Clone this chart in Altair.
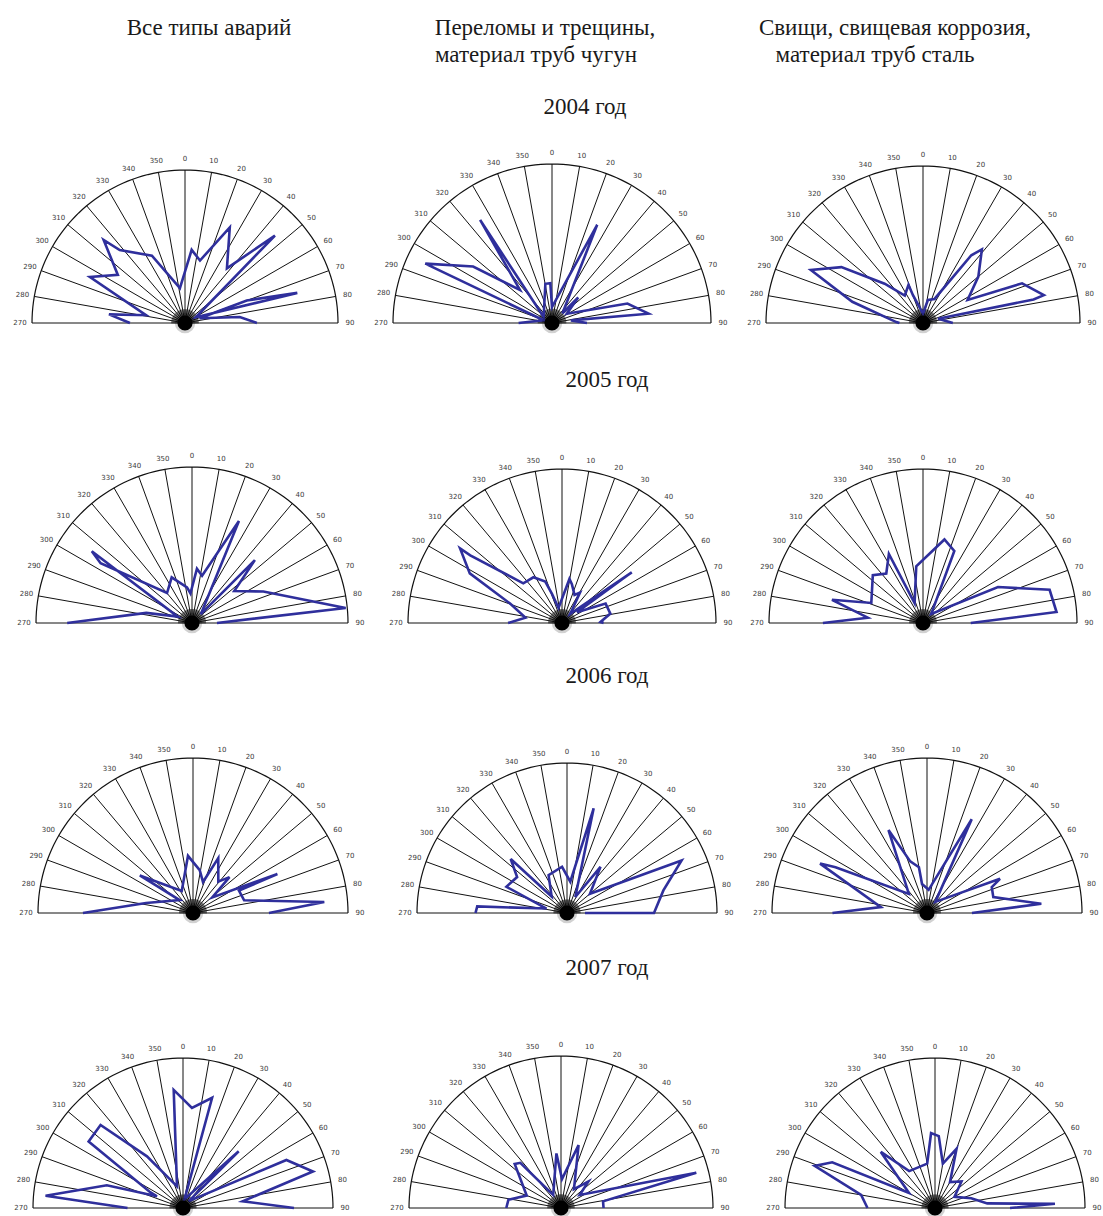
import altair as alt
import pandas as pd
import numpy as np

W, H = 1103, 1216

# Column headers and year captions
col_titles = [["Все типы аварий"],
              ["Переломы и трещины,", "материал труб чугун"],
              ["Свищи, свищевая коррозия,", "материал труб сталь"]]
years = ["2004 год", "2005 год", "2006 год", "2007 год"]

# Rose outlines: bearing in degrees (-90 = 270, 0 = north, 90 = east), radius as share of the full circle
a_2004_all = [-90, -83.5, -78.7, -64.2, -54.4, -44.4, -41.8, -26.2, -8.3, 5.2, 13.5, 25.1, 37.5, 45.8, 62, 75, 70, 72, 83.8, 90]
r_2004_all = [0.36, 0.50, 0.26, 0.69, 0.54, 0.76, 0.64, 0.49, 0.23, 0.48, 0.42, 0.69, 0.45, 0.82, 0.08, 0.76, 0.43, 0.10, 0.36, 0.47]

a_2004_iron = [-90, -72, -64.9, -54.4, -44.1, -34.9, -54, -9.6, -2.4, 0, 24.7, 47, 45.7, 58, 75.5, 84.5, 82, 90]
r_2004_iron = [0.21, 0.055, 0.88, 0.61, 0.29, 0.79, 0.065, 0.25, 0.25, 0.10, 0.68, 0.09, 0.23, 0.11, 0.49, 0.61, 0.12, 0.22]

a_2004_steel = [-90, -88, -73.3, -64.7, -55.6, -44.3, -33.5, -20.8, -19.9, 0, 12, 25.6, 35.5, 38.7, 50, 62.6, 68.2, 77, 78, 74, 90]
r_2004_steel = [0.15, 0.17, 0.47, 0.79, 0.63, 0.35, 0.21, 0.26, 0.19, 0.06, 0.15, 0.17, 0.53, 0.60, 0.46, 0.32, 0.68, 0.79, 0.72, 0.10, 0.19]

a_2005_all = [-90, -77.5, -66, -54.4, -56.8, -39.8, -24, -8, -3, 5.2, 12, 24.7, 45, 45, 52.8, 66.2, 84.4, 90]
r_2005_all = [0.80, 0.30, 0.10, 0.79, 0.70, 0.25, 0.32, 0.23, 0.19, 0.35, 0.31, 0.72, 0.08, 0.57, 0.34, 0.50, 0.99, 0.16]

a_2005_iron = [-90, -81.7, -69.5, -61.7, -53.8, -53.6, -44.3, -32, -22, -19, -13, 9.6, 14.3, 24, 30.6, 42, 54, 54, 66, 79, 88.5, 90]
r_2005_iron = [0.35, 0.24, 0.36, 0.68, 0.82, 0.74, 0.36, 0.35, 0.29, 0.20, 0.10, 0.29, 0.26, 0.20, 0.23, 0.08, 0.56, 0.12, 0.31, 0.32, 0.25, 0.27]

a_2005_steel = [-90, -84.5, -75.7, -68.8, -46.4, -36.6, -26.3, -23, -6.8, 14.4, 23.5, 42, 64.4, 75.3, 85.3, 90]
r_2005_steel = [0.65, 0.36, 0.61, 0.36, 0.45, 0.40, 0.50, 0.14, 0.37, 0.56, 0.51, 0.08, 0.54, 0.85, 0.87, 0.31]

a_2006_all = [-90, -77.9, -46, -54.8, -27, -5, 8.9, 17.9, 24.7, 38.9, 45.5, 51, 65.2, 64, 76, 85.2, 90]
r_2006_all = [0.71, 0.31, 0.12, 0.42, 0.16, 0.37, 0.28, 0.21, 0.39, 0.26, 0.33, 0.16, 0.60, 0.33, 0.34, 0.85, 0.49]

a_2006_iron = [-90, -85.8, -77.8, -66.6, -54.2, -46.2, -43, -26, -6.1, 6, 14.3, 27.5, 36, 50, 65.4, 76.8, 90, 90]
r_2006_iron = [0.61, 0.60, 0.14, 0.44, 0.41, 0.52, 0.15, 0.28, 0.31, 0.21, 0.72, 0.12, 0.38, 0.20, 0.84, 0.66, 0.58, 0.12]

a_2006_steel = [-90, -82.7, -65.2, -63.4, -43.5, -24.9, -18, -10, -9.7, 4, 25.5, 37, 64.9, 68.2, 76.5, 85.4, 90]
r_2006_steel = [0.61, 0.30, 0.76, 0.66, 0.17, 0.59, 0.35, 0.30, 0.19, 0.15, 0.67, 0.09, 0.52, 0.45, 0.44, 0.74, 0.29]

a_2007_all = [-90, -84.9, -73.4, -65.8, -64, -54.8, -44.8, -34.9, -15.5, -4.5, 5.1, 14.8, 10, 44.5, 40, 65.1, 74.3, 83.6, 90]
r_2007_all = [0.37, 0.92, 0.53, 0.19, 0.25, 0.77, 0.78, 0.42, 0.15, 0.79, 0.67, 0.76, 0.06, 0.53, 0.06, 0.76, 0.90, 0.40, 0.74]

a_2007_iron = [-90, -81, -70, -46.5, -42, -31, -4.8, 2, 15.6, 34.6, 46, 55, 75.4, 81, 90]
r_2007_iron = [0.36, 0.35, 0.24, 0.42, 0.40, 0.10, 0.36, 0.19, 0.43, 0.15, 0.25, 0.15, 0.92, 0.28, 0.28]

a_2007_steel = [-90, -80, -70.7, -66, -60, -44, -35, -10, -3, 3, 10, 20, 30, 45, 60, 75, 85, 88, 90]
r_2007_steel = [0.45, 0.50, 0.85, 0.75, 0.20, 0.52, 0.30, 0.30, 0.50, 0.48, 0.30, 0.42, 0.20, 0.25, 0.15, 0.25, 0.35, 0.80, 0.50]

series = [
    [(a_2004_all, r_2004_all), (a_2004_iron, r_2004_iron), (a_2004_steel, r_2004_steel)],
    [(a_2005_all, r_2005_all), (a_2005_iron, r_2005_iron), (a_2005_steel, r_2005_steel)],
    [(a_2006_all, r_2006_all), (a_2006_iron, r_2006_iron), (a_2006_steel, r_2006_steel)],
    [(a_2007_all, r_2007_all), (a_2007_iron, r_2007_iron), (a_2007_steel, r_2007_steel)],
]

# Page layout (pixels): baseline of each row, centre and radius of each half-disc
row_base_y = [323, 623, 913, 1208]
center_x = [[185, 552, 923], [192, 562, 923], [193, 567, 927], [183, 561, 935]]
radius_px = [[153, 159, 157], [156, 154, 154], [155, 150, 155], [150, 152, 150]]
title_pos = [[(209, 28)], [(545, 28), (536, 55)], [(895, 28), (875, 55)]]
year_pos = [(585, 107), (607, 380), (607, 676), (607, 968)]

rose_rows, ray_rows, arc_rows, fine_rows, lab_rows, hub_rows = [], [], [], [], [], []
pid = 0
for ri in range(4):
    for ci in range(3):
        cx, cy, R = center_x[ri][ci], row_base_y[ri], radius_px[ri][ci]
        base = dict(panel=pid, cx=cx, cy=cy, R=R)
        angs, rads = series[ri][ci]
        for i, (a, r) in enumerate(zip(angs, rads)):
            rose_rows.append(dict(base, seq=i, a=a, r=r))
        for a in range(-90, 91, 10):
            ray_rows.append(dict(base, a=a))
            lab_rows.append(dict(base, a=a, label=str((a + 360) % 360)))
        for i, a in enumerate(range(-90, 91, 2)):
            arc_rows.append(dict(base, seq=i, a=a))
        for a in np.arange(-90, 90.1, 2.5):
            fine_rows.append(dict(base, a=float(a)))
        hub_rows.append(base)
        pid += 1

rose = pd.DataFrame(rose_rows)
rays = pd.DataFrame(ray_rows)
arcs = pd.DataFrame(arc_rows)
fine = pd.DataFrame(fine_rows)
labels = pd.DataFrame(lab_rows)
hubs = pd.DataFrame(hub_rows)

text_rows = []
for ci, lines in enumerate(col_titles):
    for li, t in enumerate(lines):
        x, y = title_pos[ci][li]
        text_rows.append(dict(x=x, y=y, text=t))
for yi, t in enumerate(years):
    x, y = year_pos[yi]
    text_rows.append(dict(x=x, y=y, text=t))
texts = pd.DataFrame(text_rows)

xs = alt.Scale(domain=[0, W], nice=False, zero=False)
ys = alt.Scale(domain=[0, H], nice=False, zero=False, reverse=True)


def X(f):
    return alt.X(f, type="quantitative", scale=xs, axis=None)


def Y(f):
    return alt.Y(f, type="quantitative", scale=ys, axis=None)


SIN = "sin(datum.a * PI / 180)"
COS = "cos(datum.a * PI / 180)"

fine_layer = alt.Chart(fine).transform_calculate(
    x1=f"datum.cx + 0.09 * datum.R * {SIN}",
    y1=f"datum.cy - 0.09 * datum.R * {COS}",
).mark_rule(color="#444444", strokeWidth=0.6).encode(
    x=X("cx"), y=Y("cy"), x2="x1:Q", y2="y1:Q")

ray_layer = alt.Chart(rays).transform_calculate(
    x1=f"datum.cx + datum.R * {SIN}",
    y1=f"datum.cy - datum.R * {COS}",
).mark_rule(color="#111111", strokeWidth=1).encode(
    x=X("cx"), y=Y("cy"), x2="x1:Q", y2="y1:Q")

arc_layer = alt.Chart(arcs).transform_calculate(
    x=f"datum.cx + datum.R * {SIN}",
    y=f"datum.cy - datum.R * {COS}",
).mark_line(color="#111111", strokeWidth=1.2).encode(
    x=X("x"), y=Y("y"), detail="panel:N", order="seq:Q")

rose_layer = alt.Chart(rose).transform_calculate(
    x=f"datum.cx + datum.r * datum.R * {SIN}",
    y=f"datum.cy - datum.r * datum.R * {COS}",
).mark_line(color="#2f2f9c", strokeWidth=2.6, strokeJoin="miter").encode(
    x=X("x"), y=Y("y"), detail="panel:N", order="seq:Q")

hub_halo = alt.Chart(hubs).mark_circle(color="black", opacity=0.18, size=420).encode(
    x=X("cx"), y=Y("cy"))
hub_core = alt.Chart(hubs).mark_circle(color="black", opacity=1, size=230).encode(
    x=X("cx"), y=Y("cy"))

label_layer = alt.Chart(labels).transform_calculate(
    x=f"datum.cx + (datum.R + 12) * {SIN}",
    y=f"datum.cy - (datum.R + 11) * {COS}",
).mark_text(font="DejaVu Sans", fontSize=7, color="#3a3a3a",
            align="center", baseline="middle").encode(
    x=X("x"), y=Y("y"), text="label:N")

title_layer = alt.Chart(texts).mark_text(
    font="Liberation Serif", fontSize=23, color="#1a1a1a",
    align="center", baseline="middle").encode(
    x=X("x"), y=Y("y"), text="text:N")

chart = alt.layer(
    fine_layer, ray_layer, arc_layer, rose_layer, hub_halo, hub_core,
    label_layer, title_layer,
).properties(
    width=W, height=H, padding=0, autosize="none", background="white"
).configure_view(stroke=None)

chart.save("out.html", embed_options={"renderer": "svg", "actions": False})
